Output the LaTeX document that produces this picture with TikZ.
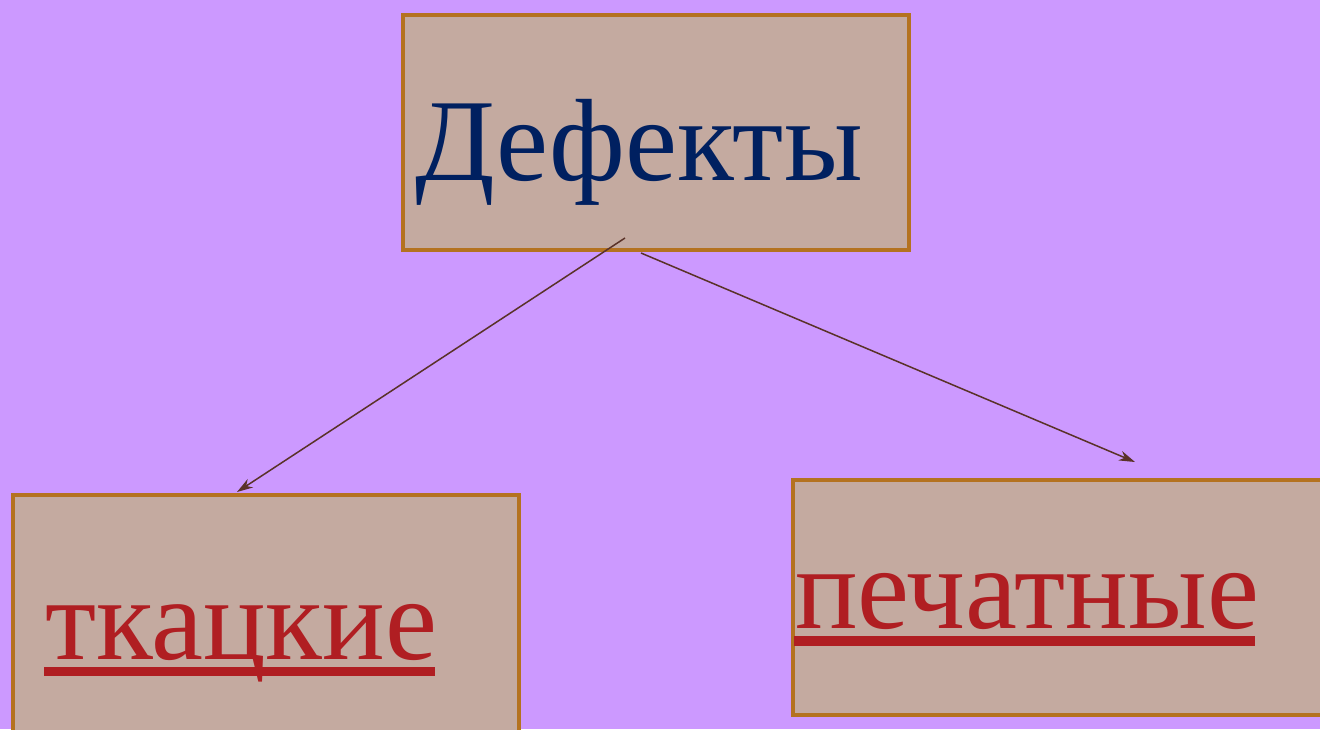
\documentclass[tikz,border=0pt]{standalone}
\usepackage{fontspec}
\setmainfont{Liberation Serif}
\usepackage{xcolor}
\usetikzlibrary{calc, arrows.meta}

\definecolor{fonlilac}{RGB}{204,153,255}
\definecolor{boxfill}{RGB}{196,170,160}
\definecolor{boxedge}{RGB}{180,114,32}
\definecolor{titleblue}{RGB}{0,32,96}
\definecolor{linkred}{RGB}{176,30,34}
\definecolor{arrowbrown}{RGB}{90,50,40}

\tikzset{
	box/.style={draw=boxedge, fill=boxfill, line width=4.5pt, inner sep=0pt},
	bigtext/.style={inner sep=0pt, anchor=base west, font=\fontsize{117}{130}\selectfont},
	link/.style={arrowbrown, line width=1.5pt, -{Stealth[length=16pt, width=10pt, inset=5pt]}}
}

\begin{document}
\begin{tikzpicture}[x=1pt, y=-1pt]
		\useasboundingbox (0, 0) rectangle (1320, 729);
		\fill[fonlilac] (0, 0) rectangle (1320, 729);

		\node[box, minimum width=506pt, minimum height=235pt] (defekty) at (656, 132.5) {};
		\node[box, minimum width=506pt, minimum height=275pt] (tkackie) at (266, 632.5) {};
		\node[box, minimum width=552pt, minimum height=235pt] (pechat) at (1069, 597.5) {};

		\node[bigtext, titleblue] (t-def) at (415, 180) {Дефекты};
		\node[bigtext, linkred] (t-tk) at (45, 659) {ткацкие};
		\node[bigtext, linkred] (t-pe) at (795, 628) {печатные};

		% underlines
		\fill[linkred] ($(t-tk.base west)+(-1, 8)$) rectangle ($(t-tk.base east)+(-3, 17)$);
		\fill[linkred] ($(t-pe.base west)+(-1, 8)$) rectangle ($(t-pe.base east)+(-4, 18)$);

		\coordinate (from-l) at (625, 238);
		\coordinate (from-r) at (641, 253);
		\coordinate (to-l) at (237, 492);
		\coordinate (to-r) at (1135, 462);

		\draw[link] (from-l) -- (to-l);
		\draw[link] (from-r) -- (to-r);
	\end{tikzpicture}
\end{document}
